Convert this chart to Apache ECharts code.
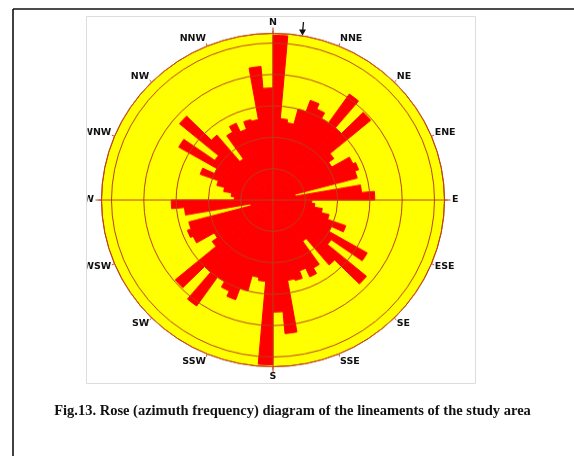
<!DOCTYPE html>
<html>
<head>
<meta charset="utf-8">
<script src="https://cdn.jsdelivr.net/npm/echarts@6/dist/echarts.min.js"></script>
<style>
html,body{margin:0;padding:0;background:#ffffff;}
#wrap{position:relative;width:574px;height:456px;overflow:hidden;}
#rose{position:absolute;left:0;top:0;width:574px;height:456px;transform:scaleY(0.972);transform-origin:273px 200px;}
#overlay{position:absolute;left:0;top:0;width:574px;height:456px;pointer-events:none;}
</style>
</head>
<body>
<div id="wrap"><div id="rose"></div><div id="overlay"></div></div>
<script>
// 5-degree azimuth bins (start angle of each bin, clockwise from North)
const binStarts = [
  0, 5, 10, 15, 20, 25, 30, 35, 40, 45, 50, 55,
  60, 65, 70, 75, 80, 85, 90, 95, 100, 105, 110, 115,
  120, 125, 130, 135, 140, 145, 150, 155, 160, 165, 170, 175,
  180, 185, 190, 195, 200, 205, 210, 215, 220, 225, 230, 235,
  240, 245, 250, 255, 260, 265, 270, 275, 280, 285, 290, 295,
  300, 305, 310, 315, 320, 325, 330, 335, 340, 345, 350, 355
];
// lineament frequency per bin (ring units)
const frequency = [
  5.25, 2.6, 2.5, 3.0, 3.38, 3.2, 3.0, 4.12, 3.0, 3.95, 2.3, 2.1,
  2.73, 2.82, 2.7, 0.7, 2.75, 3.15, 1.2, 1.3, 1.55, 1.8, 2.4, 2.0,
  3.37, 2.2, 3.78, 2.7, 1.6, 2.5, 2.7, 2.4, 2.65, 2.6, 4.27, 3.57,
  5.25, 2.6, 2.5, 3.0, 3.38, 3.2, 3.0, 4.12, 3.0, 3.95, 2.3, 2.1,
  2.73, 2.82, 2.7, 0.7, 2.75, 3.15, 1.2, 1.3, 1.55, 1.8, 2.4, 2.0,
  3.37, 2.2, 3.78, 2.7, 1.6, 2.5, 2.7, 2.4, 2.65, 2.6, 4.27, 3.57
];
const compassLabels = ['N','NNE','NE','ENE','E','ESE','SE','SSE','S','SSW','SW','WSW','W','WNW','NW','NNW'];
const compassStep = 22.5;
const ringMax = 5.31;
const ringStep = 1;
const caption = 'Fig.13. Rose (azimuth frequency) diagram of the lineaments of the study area';

const CX = 273, CY = 200;
const RADIUS = 171.5;
const LINE = '#b8401c';

const hidden = {
  axisLine: {show: false}, axisTick: {show: false},
  axisLabel: {show: false}, splitLine: {show: false}
};

// ---------- rose chart ----------
const rose = echarts.init(document.getElementById('rose'), null, {renderer: 'canvas'});
rose.setOption({
  animation: false,
  polar: [
    {center: [CX, CY], radius: RADIUS},
    {center: [CX, CY], radius: RADIUS * 1.035},
    {center: [CX, CY], radius: RADIUS}
  ],
  angleAxis: [
    Object.assign({polarIndex: 0, type: 'category', data: binStarts, startAngle: 90, clockwise: true, boundaryGap: true}, hidden),
    Object.assign({polarIndex: 1, type: 'value', min: 0, max: 360, interval: 90, startAngle: 90, clockwise: true, z: 10}, hidden,
      {splitLine: {show: true, lineStyle: {color: LINE, width: 1}}}),
    Object.assign({polarIndex: 2, type: 'value', min: 0, max: 360, interval: compassStep, startAngle: 90, clockwise: true, z: 10}, hidden, {
      axisLine: {show: true, lineStyle: {color: LINE, width: 1}},
      axisTick: {show: true, length: 3, lineStyle: {color: LINE, width: 1}}
    })
  ],
  radiusAxis: [
    Object.assign({polarIndex: 0, type: 'value', min: 0, max: ringMax, interval: ringStep}, hidden,
      {splitArea: {show: true, areaStyle: {color: ['#ffff00']}}}),
    Object.assign({polarIndex: 1, type: 'value', min: 0, max: ringMax, interval: ringStep}, hidden),
    Object.assign({polarIndex: 2, type: 'value', min: 0, max: ringMax, interval: ringStep, z: 10}, hidden,
      {splitLine: {show: true, lineStyle: {color: LINE, width: 1}}})
  ],
  series: [{
    type: 'bar',
    coordinateSystem: 'polar',
    polarIndex: 0,
    data: frequency,
    barCategoryGap: '0%',
    itemStyle: {color: '#ff0000', borderColor: '#ff0000', borderWidth: 1},
    silent: true
  }]
});

// ---------- overlay: compass labels, frame, caption ----------
const labelEls = compassLabels.map(function (name, i) {
  const a = i * compassStep * Math.PI / 180;
  const s = Math.sin(a), c = Math.cos(a);
  let r = 175, align;
  if (i % 8 === 0) { r = 177; align = 'center'; }
  else if (i % 4 === 0) { r = 179; align = s > 0 ? 'left' : 'right'; }
  else { align = s > 0 ? 'left' : 'right'; }
  return {
    type: 'text', z: 50,
    x: CX + r * s, y: CY - r * c,
    style: {text: name, fill: '#111', font: 'bold 9.5px "DejaVu Sans"', align: align, verticalAlign: 'middle'}
  };
});

const overlay = echarts.init(document.getElementById('overlay'), null, {renderer: 'canvas'});
overlay.setOption({
  animation: false,
  backgroundColor: 'transparent',
  graphic: labelEls.concat([
    // clip the labels that stick out of the figure box on the left
    {type: 'rect', z: 100, shape: {x: 15, y: 10, width: 72.5, height: 375}, style: {fill: '#ffffff'}},
    // figure box
    {type: 'rect', z: 101, shape: {x: 86.5, y: 16.5, width: 389, height: 367}, style: {fill: 'none', stroke: '#dddddd', lineWidth: 1}},
    // page frame
    {type: 'line', z: 102, shape: {x1: 13, y1: 9, x2: 574, y2: 9}, style: {stroke: '#111', lineWidth: 1.6}},
    {type: 'line', z: 102, shape: {x1: 13, y1: 9, x2: 13, y2: 456}, style: {stroke: '#111', lineWidth: 1.6}},
    // small arrow near NNE
    {type: 'polyline', z: 102, shape: {points: [[303.5, 22], [302.5, 33]]}, style: {stroke: '#111', lineWidth: 1.3, fill: null}},
    {type: 'polygon', z: 102, shape: {points: [[299, 29.5], [306, 29.5], [302.5, 35.5]]}, style: {fill: '#111'}},
    // caption
    {type: 'text', z: 102, x: 292.5, y: 411,
      style: {text: caption, fill: '#111', font: 'bold 14.5px "Liberation Serif"', align: 'center', verticalAlign: 'middle'}}
  ])
});
</script>
</body>
</html>
